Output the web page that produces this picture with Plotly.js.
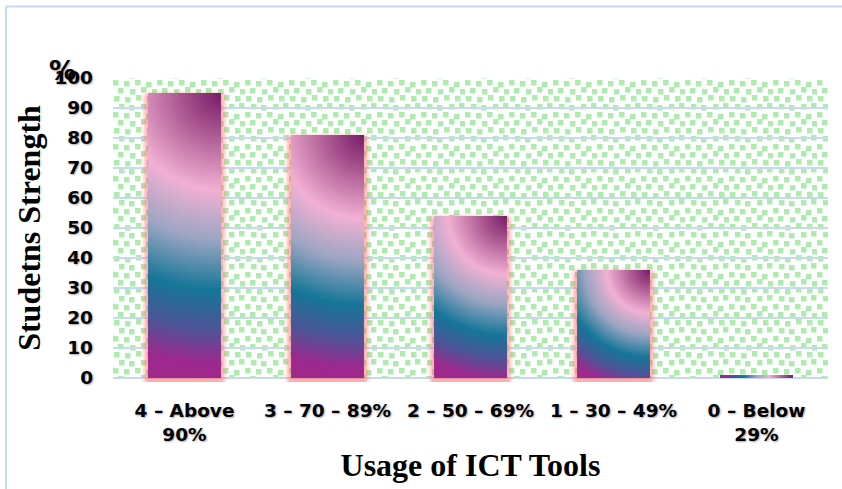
<!DOCTYPE html>
<html>
<head>
<meta charset="utf-8">
<script src="https://cdn.plot.ly/plotly-3.0.1.min.js"></script>
<style>
html, body { margin: 0; padding: 0; background: #ffffff; }
#chart { width: 842px; height: 489px; }
</style>
</head>
<body>
<div id="chart"></div>
<script>
// ---- data ----
const categories = ['4 – Above<br>90%', '3 – 70 – 89%', '2 – 50 – 69%', '1 – 30 – 49%', '0 – Below<br>29%'];
const studentsStrength = [95, 81, 54, 36, 1];
const yTickValues = [0, 10, 20, 30, 40, 50, 60, 70, 80, 90, 100];
const yTickLabels = ['0', '10', '20', '30', '40', '50', '60', '70', '80', '90', '100'];
const yAxisTitle = 'Studetns Strength';
const xAxisTitle = 'Usage of ICT Tools';
const unitLabel = '%';

// ---- styles ----
const gridBlue = '#c6d9f1';
const tickFont = { family: 'DejaVu Sans, Liberation Sans, sans-serif', size: 18.5, color: '#000000', weight: 700, shadow: '1px 1px 2px rgba(0,0,0,0.35)' };
const titleFont = { family: 'Liberation Serif, Times New Roman, serif', size: 32, color: '#000000', weight: 700 };
const gradientStops = [[0, '#761c68'], [0.12, '#a34e8a'], [0.33, '#f1b0d3'], [0.5, '#9aa5c2'], [0.67, '#157698'], [0.8, '#4b5597'], [0.92, '#9d288e'], [1, '#a1288d']];

// background checker pattern as an SVG image (plot area 715 x 300)
function patternURI(w, h) {
  const sq = [[0,0],[11,1],[22,0],[33,2],[5,8],[17,9],[28,7],[39,9],[1,16],[12,17],[23,15],[34,16],[6,24],[16,25],[28,24],[38,23]];
  let rects = sq.map(p => `<rect x="${p[0]}" y="${p[1]}" width="5.5" height="5.5" fill="#aeebae"/>`).join('');
  const svg = `<svg xmlns="http://www.w3.org/2000/svg" width="${w}" height="${h}" viewBox="0 0 ${w} ${h}" preserveAspectRatio="none">` +
    `<defs><pattern id="p" x="0" y="2" width="44" height="32" patternUnits="userSpaceOnUse">${rects}</pattern></defs>` +
    `<rect x="0" y="0" width="${w}" height="${h}" fill="#ffffff"/><rect x="0" y="0" width="${w}" height="${h}" fill="url(#p)"/></svg>`;
  return 'data:image/svg+xml;charset=utf-8,' + encodeURIComponent(svg);
}

const data = [{
  type: 'bar',
  x: categories,
  y: studentsStrength,
  marker: { color: '#157698', line: { width: 0 } },
  cliponaxis: false,
  hoverinfo: 'skip'
}];

const layout = {
  width: 842,
  height: 489,
  margin: { l: 113, r: 14, t: 78, b: 111, pad: 0 },
  paper_bgcolor: '#ffffff',
  plot_bgcolor: '#ffffff',
  showlegend: false,
  bargap: 0.49,
  xaxis: {
    type: 'category',
    showgrid: false,
    zeroline: false,
    showline: false,
    ticks: '',
    tickfont: tickFont,
    ticklabelstandoff: 19,
    automargin: false,
    title: { text: xAxisTitle, font: titleFont, standoff: 10 }
  },
  yaxis: {
    range: [0, 100],
    tickvals: yTickValues,
    ticktext: yTickLabels,
    showgrid: true,
    gridcolor: gridBlue,
    gridwidth: 2,
    zeroline: true,
    zerolinecolor: gridBlue,
    zerolinewidth: 2,
    showline: false,
    ticks: '',
    tickfont: tickFont,
    ticklabelstandoff: 19,
    automargin: false,
    title: { text: yAxisTitle, font: titleFont, standoff: 4 }
  },
  images: [{
    source: patternURI(715, 300),
    xref: 'paper', yref: 'paper',
    x: 0, y: 1, sizex: 1, sizey: 1,
    xanchor: 'left', yanchor: 'top',
    sizing: 'stretch',
    layer: 'below'
  }],
  annotations: [{
    text: unitLabel,
    xref: 'paper', yref: 'paper',
    x: -0.071, y: 1.025,
    xanchor: 'center', yanchor: 'middle',
    showarrow: false,
    font: { family: 'DejaVu Sans, sans-serif', size: 27, color: '#000000', weight: 700, shadow: '1px 1px 2px rgba(0,0,0,0.35)' }
  }],
  shapes: [
    { type: 'line', xref: 'paper', yref: 'paper', x0: -0.1497, x1: 1.03, y0: 1.238, y1: 1.238, line: { color: '#c6d9f1', width: 2 } },
    { type: 'line', xref: 'paper', yref: 'paper', x0: -0.1497, x1: -0.1497, y0: 1.238, y1: -0.4, line: { color: '#c6d9f1', width: 2 } }
  ]
};

const gd = document.getElementById('chart');
Plotly.newPlot(gd, data, layout, { staticPlot: true, displayModeBar: false }).then(() => {
  const NS = 'http://www.w3.org/2000/svg';
  const svg = gd.querySelector('svg.main-svg');
  let defs = svg.querySelector('defs');
  if (!defs) { defs = document.createElementNS(NS, 'defs'); svg.insertBefore(defs, svg.firstChild); }
  const filt = document.createElementNS(NS, 'filter');
  filt.setAttribute('id', 'barGlowFilter');
  filt.setAttribute('x', '-50%'); filt.setAttribute('y', '-50%');
  filt.setAttribute('width', '200%'); filt.setAttribute('height', '200%');
  const blur = document.createElementNS(NS, 'feGaussianBlur');
  blur.setAttribute('stdDeviation', '2.2');
  filt.appendChild(blur);
  defs.appendChild(filt);

  gd.querySelectorAll('.barlayer .point path').forEach((p, i) => {
    const bb = p.getBBox();
    const g = document.createElementNS(NS, 'radialGradient');
    const id = 'barGradient' + i;
    g.setAttribute('id', id);
    g.setAttribute('gradientUnits', 'userSpaceOnUse');
    g.setAttribute('cx', bb.x + bb.width);
    g.setAttribute('cy', bb.y);
    g.setAttribute('fx', bb.x + bb.width);
    g.setAttribute('fy', bb.y);
    g.setAttribute('r', Math.hypot(bb.width, bb.height));
    gradientStops.forEach(s => {
      const st = document.createElementNS(NS, 'stop');
      st.setAttribute('offset', s[0]);
      st.setAttribute('stop-color', s[1]);
      g.appendChild(st);
    });
    defs.appendChild(g);

    if (bb.height > 6) {
      const glow = p.cloneNode(false);
      glow.removeAttribute('style');
      glow.setAttribute('fill', '#ff6666');
      glow.setAttribute('stroke', '#ff6666');
      glow.setAttribute('stroke-width', '7');
      glow.setAttribute('opacity', '0.55');
      glow.setAttribute('transform', 'translate(0,4)');
      glow.setAttribute('filter', 'url(#barGlowFilter)');
      p.parentNode.insertBefore(glow, p);
    }
    p.style.fill = 'url(#' + id + ')';
  });
});
</script>
</body>
</html>
